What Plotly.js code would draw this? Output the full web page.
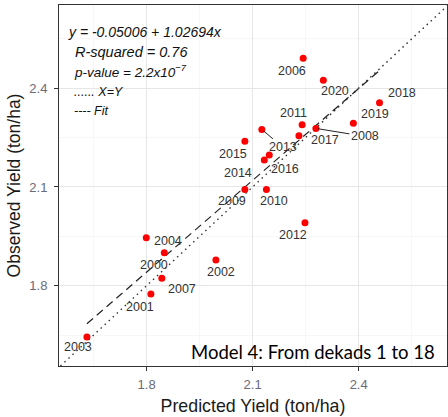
<!DOCTYPE html>
<html><head><meta charset="utf-8">
<script src="https://cdn.plot.ly/plotly-3.0.1.min.js"></script>
<style>html,body{margin:0;padding:0;background:#fff}#chart{width:448px;height:417px}</style>
</head><body><div id="chart"></div>
<script>
// ---- data ----
const years     = ['2000','2001','2002','2003','2004','2006','2007','2008','2009','2010','2011','2012','2013','2014','2015','2016','2017','2018','2019','2020'];
const predicted = [1.850,1.812,1.996,1.631,1.799,2.243,1.843,2.279,2.078,2.139,2.240,2.248,2.126,2.133,2.078,2.147,2.231,2.459,2.385,2.300];
const observed  = [1.900,1.775,1.878,1.644,1.946,2.491,1.823,2.278,2.092,2.092,2.289,1.991,2.275,2.182,2.239,2.197,2.256,2.356,2.294,2.424];
const xTicks = [1.8, 2.1, 2.4];
const yTicks = [1.8, 2.1, 2.4];
const xRange = [1.552, 2.650];
const yRange = [1.556, 2.653];
const statLines = ['y = -0.05006 + 1.02694x', 'R-squared = 0.76', 'p-value = 2.2x10<sup>\u22127</sup>', '...... X=Y', '---- Fit'];
const modelText = 'Model 4: From dekads 1 to 18';

// label placement (pixel offsets of each year label from its point)
const labelDx = [-10,-11, 5,-9, 22,-11, 20, 49,-13, 8,-9,-12, 21,-26,-12, 16, 26, 22, 22, 12];
const labelDy = [ 12, 13,12,10,  3, 13, 11,  8, 11,11,-12, 12, 18, 13, 13, 14,  4,-10, -9, 11];
const labelSeg = ['2008','2013'];

// ordinary least squares fit of observed on predicted
const n = predicted.length;
const mx = predicted.reduce((a,b)=>a+b,0)/n;
const my = observed.reduce((a,b)=>a+b,0)/n;
let sxy=0, sxx=0;
for (let i=0;i<n;i++){ sxy += (predicted[i]-mx)*(observed[i]-my); sxx += (predicted[i]-mx)**2; }
const slope = sxy/sxx, intercept = my - slope*mx;
const fitX = [Math.min(...predicted), Math.max(...predicted)];
const fitY = fitX.map(v => intercept + slope*v);
const idX = [Math.max(xRange[0], yRange[0]), Math.min(xRange[1], yRange[1])];

const FONT = 'Liberation Sans';

const traces = [
  {x: idX, y: idX, mode:'lines', line:{color:'#333', width:1.4, dash:'1.5px,4px'}, hoverinfo:'skip'},
  {x: fitX, y: fitY, mode:'lines', line:{color:'#222', width:1.2, dash:'8px,5px'}, hoverinfo:'skip'},
  {x: predicted, y: observed, mode:'markers', marker:{color:'#ff0000', size:7}}
];

const annotations = [];
years.forEach((yr,i) => {
  if (labelSeg.includes(yr)) {
    annotations.push({x: predicted[i], y: observed[i], text: yr, showarrow:true, ax: labelDx[i], ay: labelDy[i],
      arrowhead:0, arrowwidth:1, arrowcolor:'#222', standoff:2, font:{family:FONT, size:12.5, color:'#333'}});
  } else {
    annotations.push({x: predicted[i], y: observed[i], text: yr, showarrow:false, xshift: labelDx[i], yshift: -labelDy[i],
      font:{family:FONT, size:12.5, color:'#333'}});
  }
});
const statX = [0.0173, 0.036, 0.0335, 0.0335, 0.0335];
const statY = [0.926, 0.871, 0.817, 0.760, 0.706];
const statSize = [14, 14.5, 13.5, 12.5, 12.5];
statLines.forEach((t,i) => annotations.push({xref:'paper', yref:'paper', x: statX[i], y: statY[i], xanchor:'left', yanchor:'middle',
  text: '<i>'+t+'</i>', showarrow:false, font:{family:FONT, size: statSize[i], color:'#111'}}));
annotations.push({xref:'paper', yref:'paper', x:0.974, y:0.0396, xanchor:'right', yanchor:'middle', text: modelText, showarrow:false,
  font:{family:'Lato', size:18.5, color:'#000'}});

const axisCommon = {
  showline:true, mirror:true, linecolor:'#333', linewidth:1,
  ticks:'outside', ticklen:4, tickcolor:'#333', tickwidth:1,
  showgrid:true, gridcolor:'#e6e6e6', gridwidth:1, zeroline:false,
  tickfont:{family:FONT, size:13, color:'#6a6a78'},
  minor:{dtick:0.15, showgrid:true, gridcolor:'#f2f2f2', gridwidth:0.6, ticks:''}
};

const layout = {
  width:448, height:417,
  margin:{l:59, r:1, t:5, b:51},
  paper_bgcolor:'#fff', plot_bgcolor:'#fff',
  showlegend:false,
  xaxis: Object.assign({}, axisCommon, {range:xRange, tickvals:xTicks, ticktext:xTicks.map(v=>v.toFixed(1)), tick0:1.8,
    ticklabelstandoff:2,
    title:{text:'Predicted Yield (ton/ha)', font:{family:FONT, size:17.8, color:'#1a1a1a'}, standoff:8}}),
  yaxis: Object.assign({}, axisCommon, {range:yRange, tickvals:yTicks, ticktext:yTicks.map(v=>v.toFixed(1)), tick0:1.8,
    ticklabelstandoff:4,
    title:{text:'Observed Yield (ton/ha)', font:{family:FONT, size:17.5, color:'#1a1a1a'}, standoff:4}}),
  annotations: annotations
};

Plotly.newPlot('chart', traces, layout, {staticPlot:true, displayModeBar:false});
</script>
</body></html>
